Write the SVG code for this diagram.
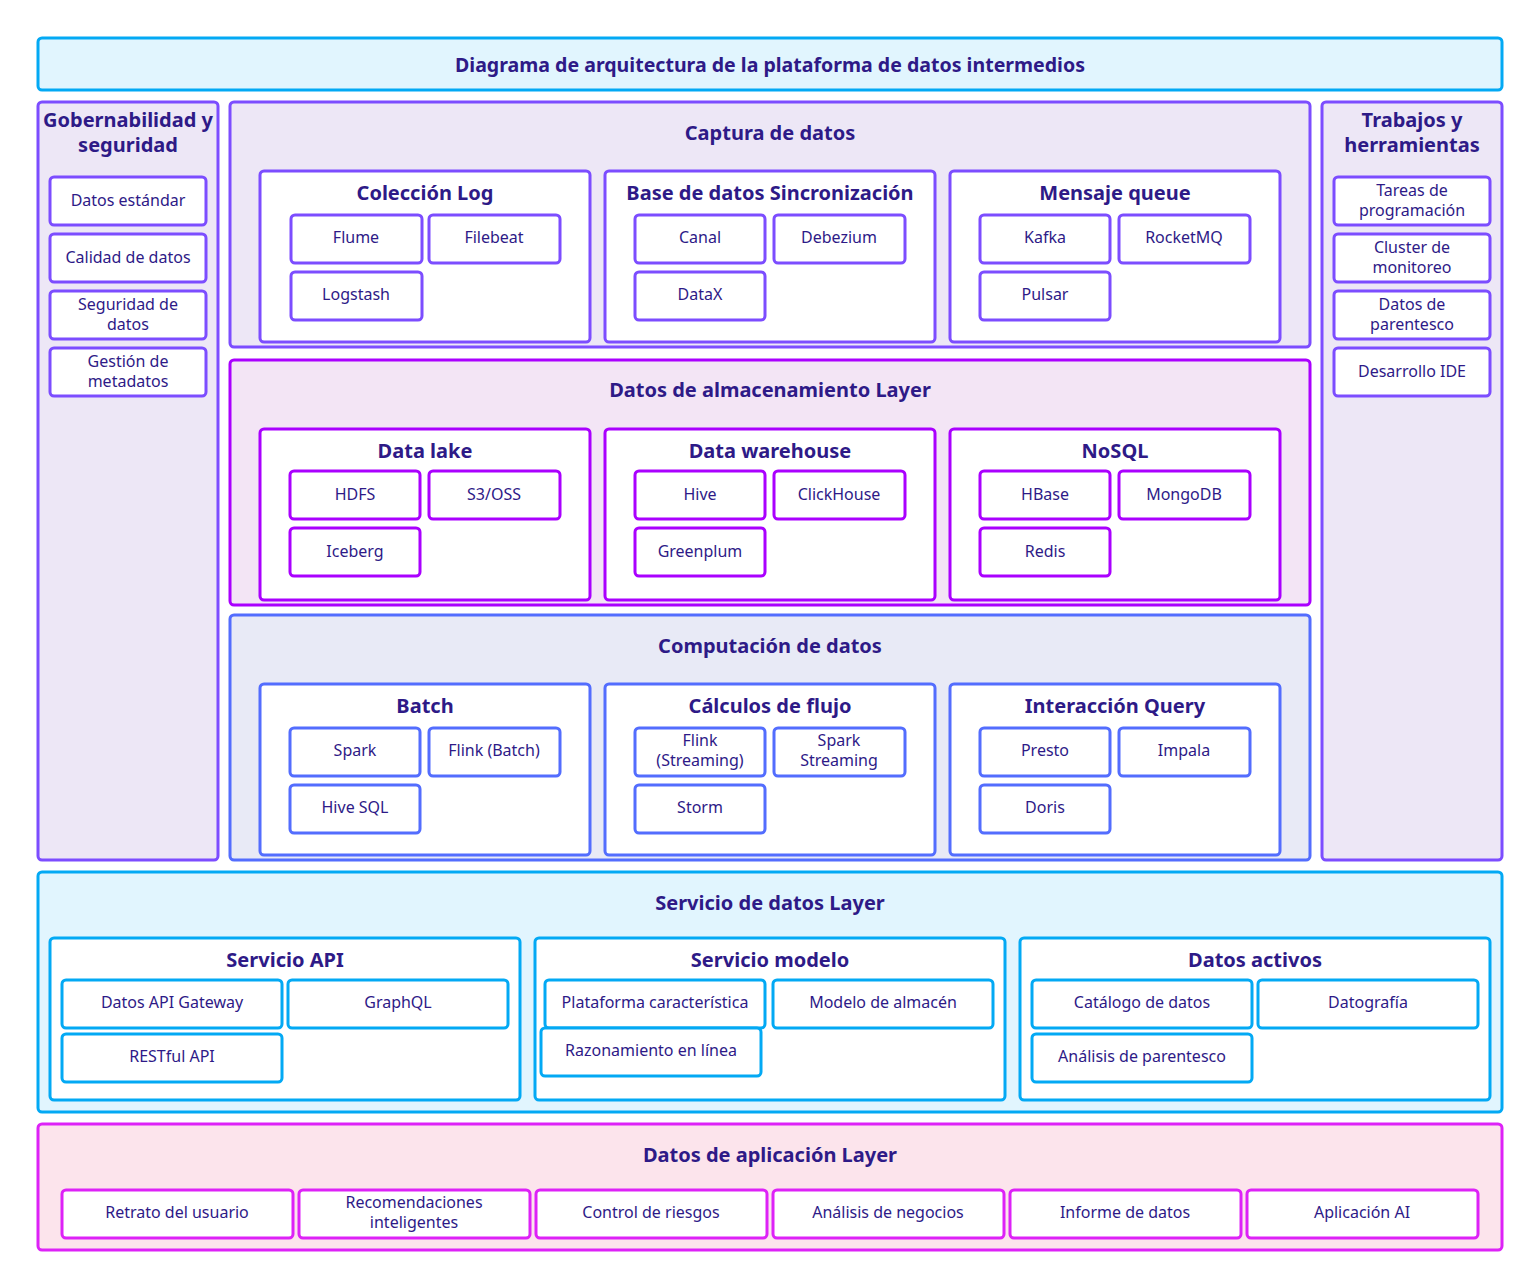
<svg xmlns="http://www.w3.org/2000/svg" width="1539" height="1287" viewBox="0 0 1539 1287">
<style>
text{font-family:"Noto Sans","Open Sans","DejaVu Sans",sans-serif;fill:#2e1a87;text-anchor:middle;dominant-baseline:central;transform:translateY(-1px)}
.h{font-weight:bold;font-size:20px}
.t{font-size:16px}
rect{stroke-width:3}
.cy{stroke:#03a9f4;fill:#e1f5fe}
.dp{stroke:#7c4dff;fill:#ede7f6}
.pu{stroke:#aa00ff;fill:#f3e5f5}
.in{stroke:#536dfe;fill:#e8eaf6}
.mg{stroke:#dd22f7;fill:#fce4ec}
.cyw{stroke:#03a9f4;fill:#fff}
.dpw{stroke:#7c4dff;fill:#fff}
.puw{stroke:#aa00ff;fill:#fff}
.inw{stroke:#536dfe;fill:#fff}
.mgw{stroke:#dd22f7;fill:#fff}
</style>
<rect width="1539" height="1287" fill="#fff" stroke="none"/>
<g id="title">
<rect class="cy" x="38" y="38" width="1464" height="52" rx="4"/>
<text class="h" x="770" y="65" textLength="630" lengthAdjust="spacingAndGlyphs">Diagrama de arquitectura de la plataforma de datos intermedios</text>
</g>
<g id="gobernabilidad">
<rect class="dp" x="38" y="102" width="180" height="758" rx="4"/>
<text class="h" x="128" y="120">Gobernabilidad y</text>
<text class="h" x="128" y="145">seguridad</text>
<rect class="dpw" x="50" y="177" width="156" height="48" rx="4"/><text class="t" x="128" y="201">Datos estándar</text>
<rect class="dpw" x="50" y="234" width="156" height="48" rx="4"/><text class="t" x="128" y="258">Calidad de datos</text>
<rect class="dpw" x="50" y="291" width="156" height="48" rx="4"/><text class="t" x="128" y="305">Seguridad de</text><text class="t" x="128" y="325">datos</text>
<rect class="dpw" x="50" y="348" width="156" height="48" rx="4"/><text class="t" x="128" y="362">Gestión de</text><text class="t" x="128" y="382">metadatos</text>
</g>
<g id="trabajos">
<rect class="dp" x="1322" y="102" width="180" height="758" rx="4"/>
<text class="h" x="1412" y="120">Trabajos y</text>
<text class="h" x="1412" y="145">herramientas</text>
<rect class="dpw" x="1334" y="177" width="156" height="48" rx="4"/><text class="t" x="1412" y="191">Tareas de</text><text class="t" x="1412" y="211">programación</text>
<rect class="dpw" x="1334" y="234" width="156" height="48" rx="4"/><text class="t" x="1412" y="248">Cluster de</text><text class="t" x="1412" y="268">monitoreo</text>
<rect class="dpw" x="1334" y="291" width="156" height="48" rx="4"/><text class="t" x="1412" y="305">Datos de</text><text class="t" x="1412" y="325">parentesco</text>
<rect class="dpw" x="1334" y="348" width="156" height="48" rx="4"/><text class="t" x="1412" y="372">Desarrollo IDE</text>
</g>
<g id="captura">
<rect class="dp" x="230" y="102" width="1080" height="245" rx="4"/>
<text class="h" x="770" y="133">Captura de datos</text>
<g id="coleccion-log">
<rect class="dpw" x="260" y="171" width="330" height="171" rx="4"/>
<text class="h" x="425" y="193">Colección Log</text>
<rect class="dpw" x="291" y="215" width="131" height="48" rx="4"/><text class="t" x="356" y="238">Flume</text>
<rect class="dpw" x="429" y="215" width="131" height="48" rx="4"/><text class="t" x="494" y="238">Filebeat</text>
<rect class="dpw" x="291" y="272" width="131" height="48" rx="4"/><text class="t" x="356" y="295">Logstash</text>
</g>
<g id="base-datos">
<rect class="dpw" x="605" y="171" width="330" height="171" rx="4"/>
<text class="h" x="770" y="193">Base de datos Sincronización</text>
<rect class="dpw" x="635" y="215" width="130" height="48" rx="4"/><text class="t" x="700" y="238">Canal</text>
<rect class="dpw" x="774" y="215" width="131" height="48" rx="4"/><text class="t" x="839" y="238">Debezium</text>
<rect class="dpw" x="635" y="272" width="130" height="48" rx="4"/><text class="t" x="700" y="295">DataX</text>
</g>
<g id="mensaje-queue">
<rect class="dpw" x="950" y="171" width="330" height="171" rx="4"/>
<text class="h" x="1115" y="193">Mensaje queue</text>
<rect class="dpw" x="980" y="215" width="130" height="48" rx="4"/><text class="t" x="1045" y="238">Kafka</text>
<rect class="dpw" x="1119" y="215" width="131" height="48" rx="4"/><text class="t" x="1184" y="238">RocketMQ</text>
<rect class="dpw" x="980" y="272" width="130" height="48" rx="4"/><text class="t" x="1045" y="295">Pulsar</text>
</g>
</g>
<g id="almacenamiento">
<rect class="pu" x="230" y="360" width="1080" height="245" rx="4"/>
<text class="h" x="770" y="390">Datos de almacenamiento Layer</text>
<g id="data-lake">
<rect class="puw" x="260" y="429" width="330" height="171" rx="4"/>
<text class="h" x="425" y="451">Data lake</text>
<rect class="puw" x="290" y="471" width="130" height="48" rx="4"/><text class="t" x="355" y="495">HDFS</text>
<rect class="puw" x="429" y="471" width="131" height="48" rx="4"/><text class="t" x="494" y="495">S3/OSS</text>
<rect class="puw" x="290" y="528" width="130" height="48" rx="4"/><text class="t" x="355" y="552">Iceberg</text>
</g>
<g id="data-warehouse">
<rect class="puw" x="605" y="429" width="330" height="171" rx="4"/>
<text class="h" x="770" y="451">Data warehouse</text>
<rect class="puw" x="635" y="471" width="130" height="48" rx="4"/><text class="t" x="700" y="495">Hive</text>
<rect class="puw" x="774" y="471" width="131" height="48" rx="4"/><text class="t" x="839" y="495">ClickHouse</text>
<rect class="puw" x="635" y="528" width="130" height="48" rx="4"/><text class="t" x="700" y="552">Greenplum</text>
</g>
<g id="nosql">
<rect class="puw" x="950" y="429" width="330" height="171" rx="4"/>
<text class="h" x="1115" y="451">NoSQL</text>
<rect class="puw" x="980" y="471" width="130" height="48" rx="4"/><text class="t" x="1045" y="495">HBase</text>
<rect class="puw" x="1119" y="471" width="131" height="48" rx="4"/><text class="t" x="1184" y="495">MongoDB</text>
<rect class="puw" x="980" y="528" width="130" height="48" rx="4"/><text class="t" x="1045" y="552">Redis</text>
</g>
</g>
<g id="computacion">
<rect class="in" x="230" y="615" width="1080" height="245" rx="4"/>
<text class="h" x="770" y="646">Computación de datos</text>
<g id="batch">
<rect class="inw" x="260" y="684" width="330" height="171" rx="4"/>
<text class="h" x="425" y="706">Batch</text>
<rect class="inw" x="290" y="728" width="130" height="48" rx="4"/><text class="t" x="355" y="751">Spark</text>
<rect class="inw" x="429" y="728" width="131" height="48" rx="4"/><text class="t" x="494" y="751">Flink (Batch)</text>
<rect class="inw" x="290" y="785" width="130" height="48" rx="4"/><text class="t" x="355" y="808">Hive SQL</text>
</g>
<g id="calculos-flujo">
<rect class="inw" x="605" y="684" width="330" height="171" rx="4"/>
<text class="h" x="770" y="706">Cálculos de flujo</text>
<rect class="inw" x="635" y="728" width="130" height="48" rx="4"/><text class="t" x="700" y="741">Flink</text><text class="t" x="700" y="761">(Streaming)</text>
<rect class="inw" x="774" y="728" width="131" height="48" rx="4"/><text class="t" x="839" y="741">Spark</text><text class="t" x="839" y="761">Streaming</text>
<rect class="inw" x="635" y="785" width="130" height="48" rx="4"/><text class="t" x="700" y="808">Storm</text>
</g>
<g id="interaccion-query">
<rect class="inw" x="950" y="684" width="330" height="171" rx="4"/>
<text class="h" x="1115" y="706">Interacción Query</text>
<rect class="inw" x="980" y="728" width="130" height="48" rx="4"/><text class="t" x="1045" y="751">Presto</text>
<rect class="inw" x="1119" y="728" width="131" height="48" rx="4"/><text class="t" x="1184" y="751">Impala</text>
<rect class="inw" x="980" y="785" width="130" height="48" rx="4"/><text class="t" x="1045" y="808">Doris</text>
</g>
</g>
<g id="servicio">
<rect class="cy" x="38" y="872" width="1464" height="240" rx="4"/>
<text class="h" x="770" y="903">Servicio de datos Layer</text>
<g id="servicio-api">
<rect class="cyw" x="50" y="938" width="470" height="162" rx="4"/>
<text class="h" x="285" y="960">Servicio API</text>
<rect class="cyw" x="62" y="980" width="220" height="48" rx="4"/><text class="t" x="172" y="1003">Datos API Gateway</text>
<rect class="cyw" x="288" y="980" width="220" height="48" rx="4"/><text class="t" x="398" y="1003">GraphQL</text>
<rect class="cyw" x="62" y="1034" width="220" height="48" rx="4"/><text class="t" x="172" y="1057">RESTful API</text>
</g>
<g id="servicio-modelo">
<rect class="cyw" x="535" y="938" width="470" height="162" rx="4"/>
<text class="h" x="770" y="960">Servicio modelo</text>
<rect class="cyw" x="545" y="980" width="220" height="48" rx="4"/><text class="t" x="655" y="1003">Plataforma característica</text>
<rect class="cyw" x="773" y="980" width="220" height="48" rx="4"/><text class="t" x="883" y="1003">Modelo de almacén</text>
<rect class="cyw" x="541" y="1028" width="220" height="48" rx="4"/><text class="t" x="651" y="1051">Razonamiento en línea</text>
</g>
<g id="datos-activos">
<rect class="cyw" x="1020" y="938" width="470" height="162" rx="4"/>
<text class="h" x="1255" y="960">Datos activos</text>
<rect class="cyw" x="1032" y="980" width="220" height="48" rx="4"/><text class="t" x="1142" y="1003">Catálogo de datos</text>
<rect class="cyw" x="1258" y="980" width="220" height="48" rx="4"/><text class="t" x="1368" y="1003">Datografía</text>
<rect class="cyw" x="1032" y="1034" width="220" height="48" rx="4"/><text class="t" x="1142" y="1057">Análisis de parentesco</text>
</g>
</g>
<g id="aplicacion">
<rect class="mg" x="38" y="1124" width="1464" height="126" rx="4"/>
<text class="h" x="770" y="1155">Datos de aplicación Layer</text>
<rect class="mgw" x="62" y="1190" width="231" height="48" rx="4"/><text class="t" x="177" y="1213">Retrato del usuario</text>
<rect class="mgw" x="299" y="1190" width="231" height="48" rx="4"/><text class="t" x="414" y="1203">Recomendaciones</text><text class="t" x="414" y="1223">inteligentes</text>
<rect class="mgw" x="536" y="1190" width="231" height="48" rx="4"/><text class="t" x="651" y="1213">Control de riesgos</text>
<rect class="mgw" x="773" y="1190" width="231" height="48" rx="4"/><text class="t" x="888" y="1213">Análisis de negocios</text>
<rect class="mgw" x="1010" y="1190" width="231" height="48" rx="4"/><text class="t" x="1125" y="1213">Informe de datos</text>
<rect class="mgw" x="1247" y="1190" width="231" height="48" rx="4"/><text class="t" x="1362" y="1213">Aplicación AI</text>
</g>
<g id="connectors"/>
</svg>
